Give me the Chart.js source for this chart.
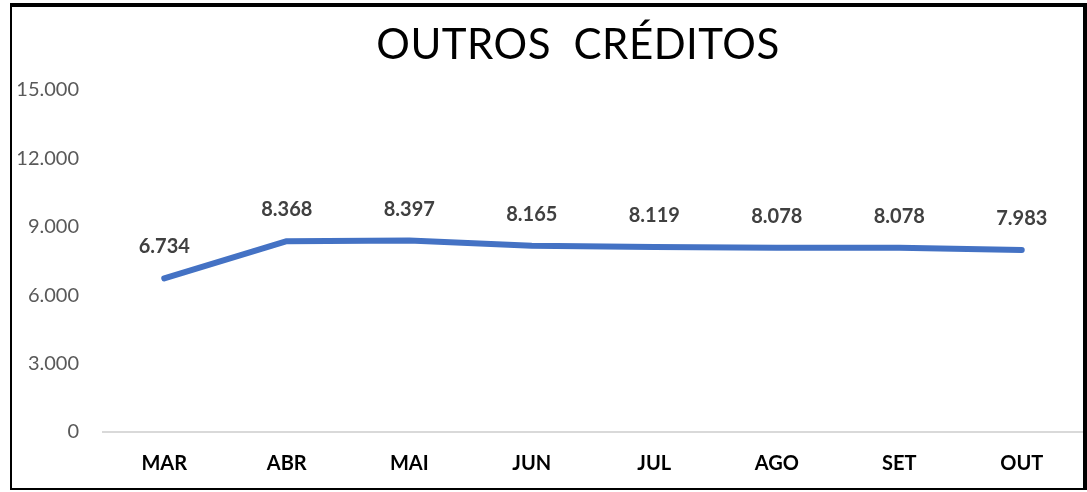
<!DOCTYPE html>
<html>
<head>
<meta charset="utf-8">
<script src="https://cdn.jsdelivr.net/npm/chart.js@4.4.0/dist/chart.umd.min.js"></script>
<style>
  html, body { margin: 0; padding: 0; background: #fff; }
  #frame {
    position: absolute; left: 10px; top: 3px;
    width: 1071px; height: 481px;
    border-style: solid; border-color: #000;
    border-width: 4px 4px 2px 2px;
  }
  #wrap { position: absolute; left: 0; top: 0; width: 1071px; height: 481px; }
</style>
</head>
<body>
<div id="frame"><div id="wrap"><canvas id="c" width="1071" height="481"></canvas></div></div>
<script>
const titleText = 'OUTROS  CRÉDITOS';
const categories = ['MAR', 'ABR', 'MAI', 'JUN', 'JUL', 'AGO', 'SET', 'OUT'];
const values = [6734, 8368, 8397, 8165, 8119, 8078, 8078, 7983];
const yMin = 0, yMax = 15000, yStep = 3000;

const fmt = v => v.toLocaleString('de-DE');

const overlay = {
  id: 'overlay',
  afterDatasetsDraw(chart) {
    const ctx = chart.ctx;
    ctx.save();
    ctx.font = 'bold 20px Lato';
    ctx.fillStyle = '#404040';
    ctx.textAlign = 'center';
    ctx.textBaseline = 'alphabetic';
    chart.getDatasetMeta(0).data.forEach((pt, i) => {
      ctx.fillText(fmt(values[i]), pt.x, pt.y - 25);
    });
    ctx.font = '42px Lato';
    ctx.letterSpacing = '0.5px';
    ctx.fillStyle = '#000';
    ctx.fillText(titleText, 566, 52);
    ctx.restore();
  }
};

new Chart(document.getElementById('c'), {
  type: 'line',
  data: {
    labels: categories,
    datasets: [{
      data: values,
      borderColor: '#4472C4',
      borderWidth: 6,
      borderCapStyle: 'round',
      borderJoinStyle: 'round',
      pointRadius: 0,
      tension: 0,
      clip: false
    }]
  },
  options: {
    responsive: false,
    animation: false,
    layout: { padding: { top: 83, right: 0, left: 0, bottom: 0 } },
    plugins: { legend: { display: false }, title: { display: false }, tooltip: { enabled: false } },
    scales: {
      x: {
        offset: true,
        grid: { display: false, drawTicks: false },
        border: { display: true, color: '#d9d9d9', width: 2 },
        ticks: { color: '#000', font: { family: 'Lato', size: 20, weight: 'bold' }, padding: 20 },
        afterFit(s) { s.height = 56; }
      },
      y: {
        min: yMin, max: yMax,
        grid: { display: false, drawTicks: false },
        border: { display: false },
        ticks: { stepSize: yStep, color: '#595959', font: { family: 'Lato', size: 20 }, padding: 24,
                 callback: v => fmt(v) },
        afterFit(s) { s.width = 91; }
      }
    }
  },
  plugins: [overlay]
});
</script>
</body>
</html>
